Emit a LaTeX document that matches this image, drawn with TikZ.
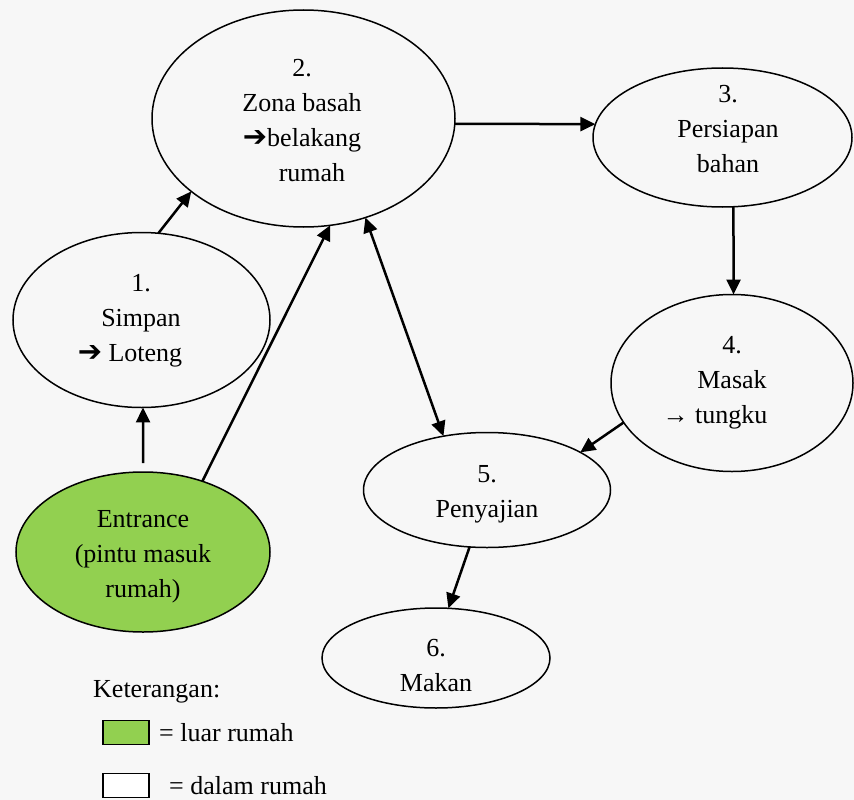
\documentclass[tikz,border=0pt]{standalone}
\usepackage{fontspec}
\setmainfont{Liberation Serif}
\newfontfamily\symf{DejaVu Sans}
\usetikzlibrary{shapes.geometric,arrows.meta}
\definecolor{outside}{RGB}{146,208,80}
\definecolor{paper}{RGB}{247,247,247}
\newcommand{\heavyarrow}{{\symf\bfseries\fontsize{29}{35}\selectfont ➔}}
\tikzset{
  zone/.style={ellipse, draw, line width=1.5pt, inner sep=0pt, outer sep=0pt},
  lbl/.style={align=center, inner sep=0pt, font=\fontsize{26}{35}\selectfont},
  flow/.style={line width=2.5pt, -{Triangle[length=15pt,width=14pt]}},
  both/.style={line width=2.5pt, {Triangle[length=15pt,width=14pt]}-{Triangle[length=15pt,width=14pt]}},
  swatch/.style={draw, line width=1.5pt, minimum width=46pt, minimum height=24pt, inner sep=0pt}
}
\begin{document}
\begin{tikzpicture}[x=1pt,y=-1pt]
\fill[paper] (0,0) rectangle (854,800);
\useasboundingbox (0,0) rectangle (854,800);

% activity zones
\node[zone, minimum width=257pt, minimum height=175pt] (e1) at (141.5,320) {};
\node[zone, minimum width=303pt, minimum height=217pt] (e2) at (303.5,118.5) {};
\node[zone, minimum width=259pt, minimum height=139pt] (e3) at (722.5,137.5) {};
\node[zone, minimum width=242pt, minimum height=177pt] (e4) at (732,383) {};
\node[zone, minimum width=247pt, minimum height=115pt] (e5) at (487,490) {};
\node[zone, minimum width=228pt, minimum height=100pt] (e6) at (436,658) {};
\node[zone, fill=outside, minimum width=254pt, minimum height=160pt] (ent) at (143,552) {};

% zone captions
\node[lbl] (t1) at (141,321) {1.\\Simpan\\\heavyarrow\ Loteng\hspace*{22pt}};
\node[lbl] (t2) at (302,121) {2.\\Zona basah\\\heavyarrow belakang\\\hspace*{20pt}rumah};
\node[lbl] (t3) at (728,129) {3.\\Persiapan\\bahan};
\node[lbl] (t4) at (732,383) {4.\\Masak\\→ tungku\hspace*{34pt}};
\node[lbl] (t5) at (487,494) {5.\\Penyajian};
\node[lbl] (t6) at (436,666) {6.\\Makan};
\node[lbl] (tent) at (143,557) {Entrance\\(pintu masuk\\rumah)};

% flows between zones
\coordinate (entTop) at (143,463);
\draw[flow] (entTop) -- (e1.-89);
\draw[flow] (ent.50) -- (e2.-76);
\draw[flow] (e1.79.4) -- (e2.-147.4);
\draw[flow] (e2.-2.5) -- (e3.174.5);
\draw[flow] (e3.-81.4) -- (e4.89.4);
\draw[both] (e2.-58) -- (e5.129.3);
\draw[flow] (e4.200.3) -- (e5.22);
\draw[flow] (e5.-107.6) -- (e6.76);

% legend
\node[lbl, anchor=west] (kt) at (93,692) {Keterangan:};
\node[swatch, fill=outside] (sw1) at (126,732.5) {};
\node[lbl, anchor=west] (sl1) at (159,733) {= luar rumah};
\node[swatch, fill=white] (sw2) at (126,785.5) {};
\node[lbl, anchor=west] (sl2) at (169,786) {= dalam rumah};
\end{tikzpicture}
\end{document}
